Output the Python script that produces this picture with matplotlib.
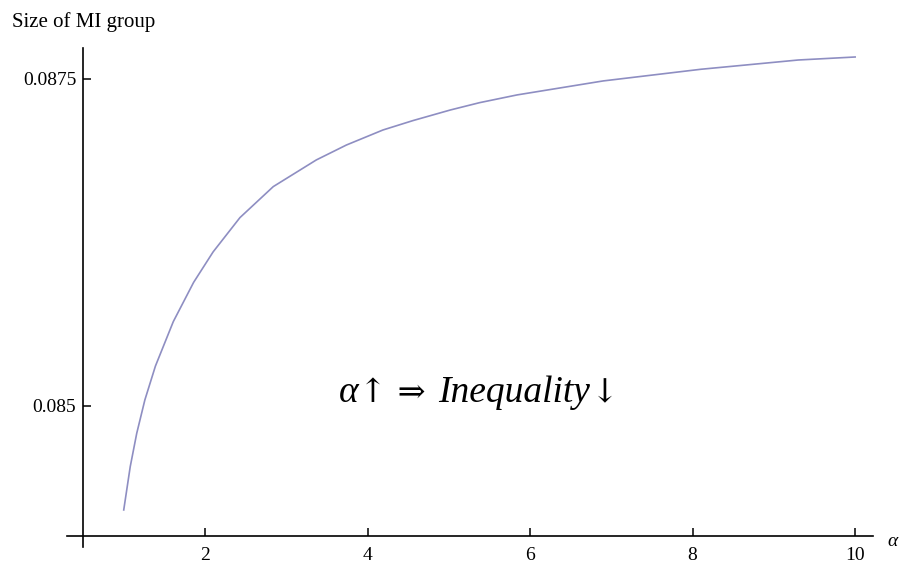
import matplotlib
matplotlib.use('Agg')
from matplotlib import pyplot as plt
from matplotlib.offsetbox import TextArea, HPacker, AnnotationBbox

# values
alpha = [1.0, 1.08, 1.16, 1.26, 1.39, 1.61, 1.86, 2.10, 2.43, 2.84,
         3.37, 3.74, 4.19, 4.56, 5.02, 5.38, 5.84, 6.9, 8.1, 9.3, 10.0]
mi_size = [0.084205, 0.084536, 0.084791, 0.085046, 0.085305, 0.085645, 0.085945,
           0.086178, 0.086440, 0.086677, 0.086881, 0.086995, 0.087110, 0.087182,
           0.087263, 0.087319, 0.087378, 0.087485, 0.087574, 0.087645, 0.087668]

x_ticks = [2, 4, 6, 8, 10]
y_ticks = [0.085, 0.0875]
y_tick_labels = ['0.085', '0.0875']

serif = ['Liberation Serif', 'DejaVu Serif']
plt.rcParams['font.family'] = serif

fig = plt.figure(figsize=(9.06, 5.69), dpi=100)
ax = fig.add_axes([0.0736, 0.0392, 0.890, 0.8765])

ax.plot(alpha, mi_size, color='#8e8ec2', lw=1.2)

ax.set_xlim(0.298, 10.22)
ax.set_ylim(0.083924, 0.087737)

ax.spines['top'].set_visible(False)
ax.spines['right'].set_visible(False)
ax.spines['left'].set_position(('data', 0.5))
ax.spines['bottom'].set_position(('data', 0.0840061))
for s in ('left', 'bottom'):
    ax.spines[s].set_linewidth(1.2)

ax.set_xticks(x_ticks)
ax.set_yticks(y_ticks)
ax.set_yticklabels(y_tick_labels)
ax.tick_params(axis='both', direction='in', length=6, width=1.1, labelsize=14)
ax.tick_params(axis='x', pad=8)
ax.tick_params(axis='y', pad=5)

fig.text(12 / 906, 1 - 22 / 569, 'Size of MI group', fontsize=15,
         ha='left', va='center')
fig.text(893 / 906, 1 - 541 / 569, 'α', fontsize=14, style='italic',
         ha='center', va='center')

# annotation: italic words, upright thin arrows
it = dict(fontsize=27, style='italic', family='Liberation Serif')
ar = dict(fontsize=24, family='DejaVu Serif', fontweight='light')
parts = [TextArea('α', textprops=it),
         TextArea('↑ ⇒ ', textprops=ar),
         TextArea('Inequality', textprops=it),
         TextArea('↓', textprops=ar)]
box = HPacker(children=parts, align='baseline', pad=0, sep=1)
ab = AnnotationBbox(box, (5.37, 0.0851), xycoords='data', frameon=False,
                    box_alignment=(0.5, 0.5))
ax.add_artist(ab)

fig.savefig('out.png', dpi=100)
